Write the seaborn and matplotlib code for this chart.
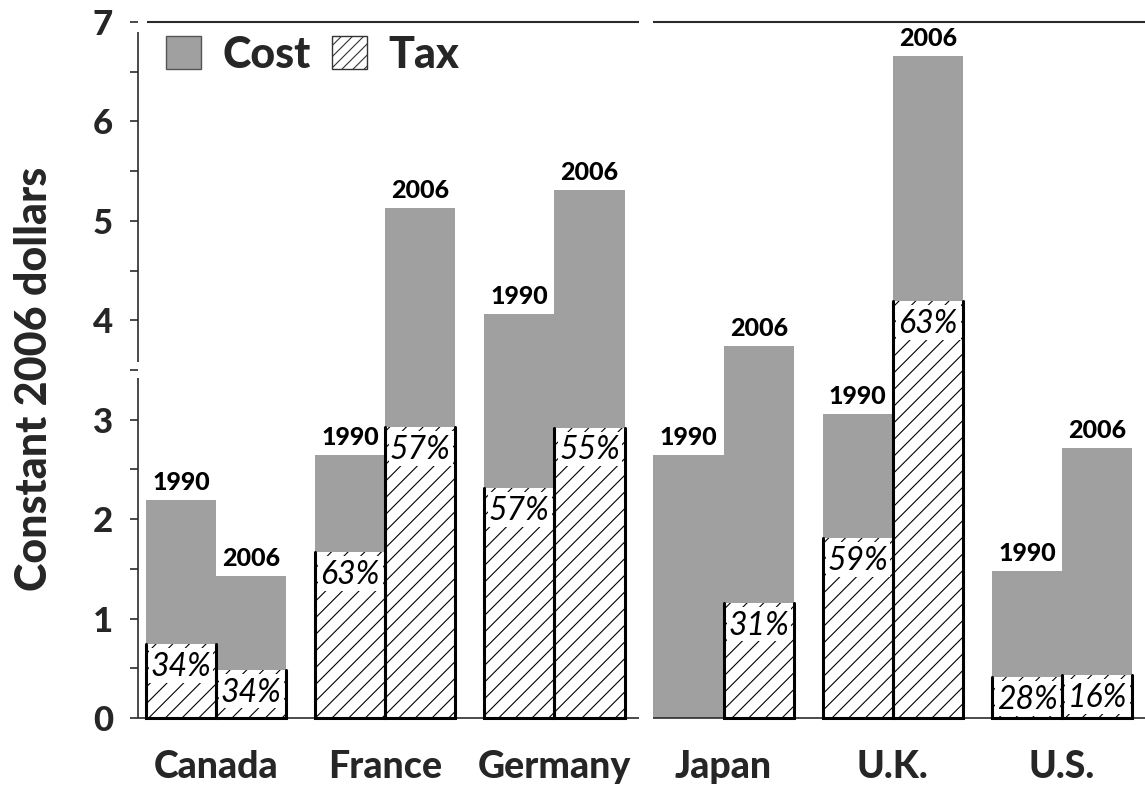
import matplotlib
matplotlib.use("Agg")
import matplotlib.pyplot as plt
from matplotlib.patches import Patch, Rectangle
from matplotlib.ticker import MultipleLocator
import pandas as pd
import seaborn as sns

# Gasoline price per gallon (constant 2006 dollars) and the tax share of it
countries = ["Canada", "France", "Germany", "Japan", "U.K.", "U.S."]
years = ["1990", "2006"]
total_1990 = [2.19, 2.65, 4.06, 2.65, 3.06, 1.48]
total_2006 = [1.43, 5.13, 5.31, 3.74, 6.66, 2.72]
tax_pct_1990 = [34, 63, 57, None, 59, 28]
tax_pct_2006 = [34, 57, 55, 31, 63, 16]

rows = []
for yr, totals, pcts in [("1990", total_1990, tax_pct_1990),
                         ("2006", total_2006, tax_pct_2006)]:
    for c, t, p in zip(countries, totals, pcts):
        rows.append({"country": c, "year": yr, "total": t,
                     "pct": p, "tax": 0.0 if p is None else t * p / 100})
df = pd.DataFrame(rows)

sns.set_theme(style="white")
plt.rcParams["font.family"] = ["Lato", "DejaVu Sans"]
plt.rcParams["hatch.linewidth"] = 0.8

GRAY = "#a0a0a0"
INK = "#2b2b2b"
HEAVY = 900

fig = plt.figure(figsize=(11.45, 7.9), dpi=100)
ax = fig.add_axes([138 / 1145, 72 / 790, 1007 / 1145, 696 / 790])

# Full price bars (cost part shows above the tax part)
sns.barplot(data=df, x="country", y="total", hue="year", order=countries,
            hue_order=years, palette=[GRAY, GRAY], width=0.83, gap=0,
            saturation=1, linewidth=0, legend=False, errorbar=None, ax=ax)
# Tax part, hatched
sns.barplot(data=df, x="country", y="tax", hue="year", order=countries,
            hue_order=years, palette=["white", "white"], width=0.83, gap=0,
            saturation=1, linewidth=0, edgecolor="black", legend=False,
            errorbar=None, ax=ax)

cost_conts = ax.containers[:2]
tax_conts = ax.containers[2:4]

for yr, cc, tc in zip(years, cost_conts, tax_conts):
    sub = df[df["year"] == yr].set_index("country").loc[countries]
    for (country, r), cbar, tbar in zip(sub.iterrows(), cc, tc):
        x0, w = tbar.get_x(), tbar.get_width()
        xc = x0 + w / 2
        # year above each bar
        ax.text(xc, r["total"] + 0.06, yr, ha="center", va="bottom",
                fontsize=18, fontweight=HEAVY, color="black")
        if r["tax"] <= 0:
            tbar.set_visible(False)
            continue
        tbar.set_hatch("//")
        h = r["tax"]
        # heavy outline on the sides and base of the tax block
        ax.plot([x0, x0, x0 + w, x0 + w], [h, 0, 0, h], color="black",
                lw=2.2, solid_joinstyle="miter", zorder=3, clip_on=False)
        # white label plate just under the top of the tax block
        ax.add_patch(Rectangle((x0 + 0.02, h - 0.39), w - 0.035, 0.35,
                               facecolor="white", edgecolor="none", zorder=2.5))
        ax.text(xc, h - 0.23, f"{int(r['pct'])}%", ha="center", va="center",
                fontsize=23, fontstyle="italic", fontweight="normal",
                color="black", zorder=4)

ax.set_xlim(-0.461, 5.49)
ax.set_ylim(0, 7)

# axes frame with breaks
for s in ax.spines.values():
    s.set_visible(False)
gap_x = 2.54
ax.hlines([7, 7], [-0.408, gap_x + 0.04], [gap_x - 0.04, 5.49],
          color=INK, lw=1.5, clip_on=False)
ax.hlines([0, 0], [-0.461, gap_x + 0.04], [gap_x - 0.04, 5.49],
          color=INK, lw=1.2, clip_on=False)
ax.vlines([0, 0], [0, 3.58], [3.42, 6.9], color=INK, lw=1.2,
          transform=ax.get_yaxis_transform(), clip_on=False)

ax.set_yticks(range(0, 8))
ax.yaxis.set_minor_locator(MultipleLocator(0.5))
ax.tick_params(axis="y", which="both", direction="out", length=6, width=1.2,
               color=INK, left=True, pad=12, labelsize=25)
for lab in ax.get_yticklabels():
    lab.set_fontweight(HEAVY)
ax.tick_params(axis="x", length=0, pad=23, labelsize=27)
for lab in ax.get_xticklabels():
    lab.set_fontweight(HEAVY)

ax.set_xlabel("")
ax.set_ylabel("Constant 2006 dollars", fontsize=31, fontweight=HEAVY)
ax.yaxis.set_label_coords(-0.083, 0.487)

handles = [Patch(facecolor=GRAY, edgecolor="#555555", lw=1),
           Patch(facecolor="white", edgecolor="#333333", hatch="///", lw=1)]
ax.legend(handles, ["Cost", "Tax"], ncol=2, frameon=False,
          loc="upper left", bbox_to_anchor=(0.028, 0.982),
          prop={"weight": HEAVY, "size": 31}, handlelength=0.8,
          handleheight=0.8, handletextpad=0.5, columnspacing=0.5,
          borderpad=0, borderaxespad=0)

fig.savefig("out.png", dpi=100)
